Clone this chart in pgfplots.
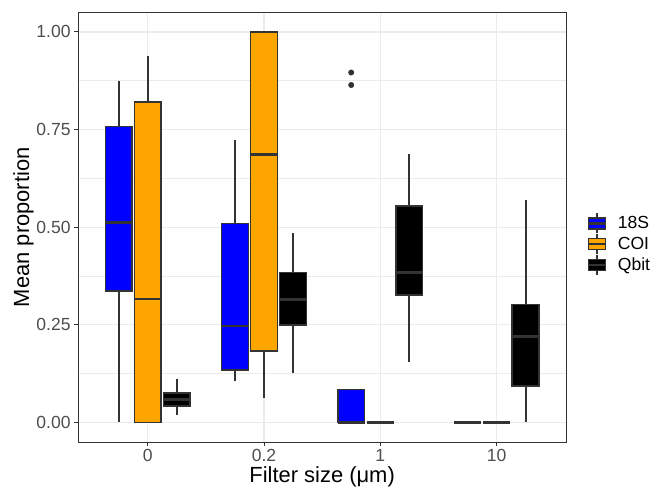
\documentclass[border=0pt]{standalone}
\usepackage{fontspec}
\setmainfont{Liberation Sans}
\usepackage{pgfplots}
\pgfplotsset{compat=1.18}
\usepgfplotslibrary{statistics}
\definecolor{c18}{HTML}{0000FF}
\definecolor{ccoi}{HTML}{FFA500}
\definecolor{cqbit}{HTML}{000000}
\definecolor{grey20}{HTML}{333333}
\definecolor{grey30}{HTML}{4D4D4D}
\definecolor{grey92}{HTML}{EBEBEB}

% legend key drawn like ggplot's boxplot key
\newcommand\lkey[1]{%
  \draw[grey20, line width=1.8bp] (8.5bp,-10bp)--(8.5bp,10bp);
  \filldraw[fill=#1, draw=grey20, line width=1.4bp] (0bp,-5.5bp) rectangle (17bp,5.5bp);
  \draw[grey20, line width=2.6bp] (0bp,0bp)--(17bp,0bp);}

\pgfplotsset{
  bx/.style={forget plot, draw=grey20, fill=#1, mark=none,
    boxplot/draw direction=y,
    boxplot/whisker extend=0,
    boxplot/every box/.append style={draw=grey20, fill=#1, line width=1.5bp},
    boxplot/every whisker/.append style={draw=grey20, line width=1.9bp},
    boxplot/every median/.append style={draw=grey20, line width=2.8bp}},
}

\begin{document}
\begin{tikzpicture}
\begin{axis}[
  scale only axis,
  width=490bp, height=431.2bp,
  xmin=0.4, xmax=4.6, ymin=-0.05, ymax=1.05,
  xtick={1,2,3,4}, xticklabels={0,0.2,1,10},
  ytick={0,0.25,0.5,0.75,1},
  yticklabels={0.00,0.25,0.50,0.75,1.00},
  minor ytick={0.125,0.375,0.625,0.875},
  minor tick length=0pt,
  tick align=outside, major tick length=4bp,
  tick style={grey20, line width=1bp},
  xtick pos=bottom, ytick pos=left,
  grid=both,
  major grid style={grey92, line width=1.3bp},
  minor grid style={grey92, line width=0.7bp},
  axis line style={grey20, line width=0.9bp},
  tick label style={font=\fontsize{17.6bp}{20bp}\selectfont, text=grey30},
  /pgf/number format/assume math mode=true,
  label style={font=\fontsize{22bp}{26bp}\selectfont},
  xlabel={Filter size (μm)},
  ylabel={Mean proportion},
  xlabel style={at={(axis description cs:0.5,-0.0937)}, anchor=base},
  ylabel style={at={(axis description cs:-0.112,0.5)}, anchor=center},
  legend style={at={(rel axis cs:1,0.4606)}, anchor=west, xshift=18bp,
    draw=none, fill=none, font=\fontsize{17.6bp}{20bp}\selectfont,
    row sep=-1bp, legend cell align=left,
    /tikz/every odd column/.append style={column sep=9bp}},
]
% group 0
\addplot[bx=c18, boxplot prepared={lower whisker=0, lower quartile=0.337, median=0.513,
  upper quartile=0.758, upper whisker=0.875, draw position=0.75, box extend=0.23}] coordinates {};
\addplot[bx=ccoi, boxplot prepared={lower whisker=0, lower quartile=0, median=0.316,
  upper quartile=0.820, upper whisker=0.939, draw position=1, box extend=0.23}] coordinates {};
\addplot[bx=cqbit, boxplot prepared={lower whisker=0.019, lower quartile=0.042, median=0.059,
  upper quartile=0.076, upper whisker=0.112, draw position=1.25, box extend=0.23}] coordinates {};
% group 0.2
\addplot[bx=c18, boxplot prepared={lower whisker=0.106, lower quartile=0.135, median=0.247,
  upper quartile=0.510, upper whisker=0.724, draw position=1.75, box extend=0.23}] coordinates {};
\addplot[bx=ccoi, boxplot prepared={lower whisker=0.063, lower quartile=0.183, median=0.686,
  upper quartile=1.0, upper whisker=1.0, draw position=2, box extend=0.23}] coordinates {};
\addplot[bx=cqbit, boxplot prepared={lower whisker=0.127, lower quartile=0.250, median=0.314,
  upper quartile=0.384, upper whisker=0.484, draw position=2.25, box extend=0.23}] coordinates {};
% group 1
\addplot[bx=c18, mark=*, mark size=2.7bp, mark options={fill=grey20, draw=grey20, line width=0.5bp},
  boxplot prepared={lower whisker=0, lower quartile=0, median=0,
  upper quartile=0.084, upper whisker=0.087, draw position=2.75, box extend=0.23}]
  table[row sep=\\, y index=0] {data\\ 0.896\\ 0.864\\};
\addplot[bx=ccoi, boxplot prepared={lower whisker=0, lower quartile=0, median=0,
  upper quartile=0, upper whisker=0, draw position=3, box extend=0.23}] coordinates {};
\addplot[bx=cqbit, boxplot prepared={lower whisker=0.155, lower quartile=0.327, median=0.384,
  upper quartile=0.554, upper whisker=0.688, draw position=3.25, box extend=0.23}] coordinates {};
% group 10
\addplot[bx=c18, boxplot prepared={lower whisker=0, lower quartile=0, median=0,
  upper quartile=0, upper whisker=0, draw position=3.75, box extend=0.23}] coordinates {};
\addplot[bx=ccoi, boxplot prepared={lower whisker=0, lower quartile=0, median=0,
  upper quartile=0, upper whisker=0, draw position=4, box extend=0.23}] coordinates {};
\addplot[bx=cqbit, boxplot prepared={lower whisker=0, lower quartile=0.093, median=0.221,
  upper quartile=0.302, upper whisker=0.569, draw position=4.25, box extend=0.23}] coordinates {};

\addlegendimage{legend image code/.code={\lkey{c18}}}
\addlegendentry{18S}
\addlegendimage{legend image code/.code={\lkey{ccoi}}}
\addlegendentry{COI}
\addlegendimage{legend image code/.code={\lkey{cqbit}}}
\addlegendentry{Qbit}
\end{axis}
\path (current axis.south west) ++(-78.3bp,-46.4bp) rectangle ++(655bp,490bp);
\end{tikzpicture}
\end{document}
